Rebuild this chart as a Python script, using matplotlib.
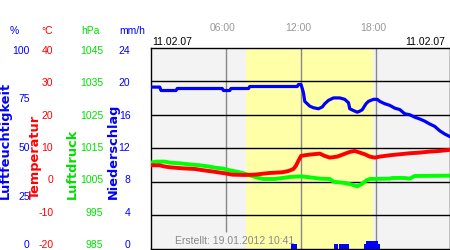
import matplotlib
matplotlib.use('Agg')
import matplotlib.pyplot as plt
import numpy as np

plt.rcParams['font.family'] = ['Liberation Sans', 'DejaVu Sans']
plt.rcParams['axes.unicode_minus'] = False

# humidity (%), hours of day
hum_t = [0.0, 0.7, 0.8, 2.0, 2.1, 5.7, 5.8, 6.3, 6.4, 7.8, 7.9, 11.7, 11.8, 12.0,
         12.1, 12.2, 12.3, 12.5, 12.7, 13.0, 13.4, 13.7, 13.9, 14.2, 14.6, 15.1,
         15.5, 15.8, 15.9, 16.2, 16.5, 16.7, 16.9, 17.2, 17.4, 17.8, 18.1, 18.3,
         18.7, 19.1, 19.5, 19.9, 20.3, 20.7, 21.1, 21.5, 21.9, 22.3, 22.7, 23.1,
         23.5, 23.85]
hum_v = [80.5, 80.5, 78.8, 78.8, 79.8, 79.8, 78.8, 78.8, 79.8, 79.8, 80.8, 80.8, 81.8, 81.8,
         79.8, 77.6, 73.4, 72.2, 71.0, 70.2, 69.7, 70.6, 72.2, 73.9, 75.1, 75.1,
         74.4, 72.7, 69.7, 68.8, 68.0, 68.5, 69.2, 72.2, 73.4, 74.4, 74.4, 73.4,
         72.2, 71.4, 70.0, 69.3, 67.2, 66.7, 65.5, 64.6, 63.5, 62.1, 60.9, 58.7,
         57.1, 56.0]

# temperature (°C)
temp_t = [0.0, 0.7, 1.0, 1.5, 2.5, 3.5, 4.2, 5.0, 5.9, 6.5, 7.5, 8.3, 9.0, 9.5,
          10.5, 11.0, 11.4, 11.6, 11.8, 12.0, 12.3, 12.7, 13.5, 13.9, 14.3, 14.9,
          15.4, 15.9, 16.3, 16.7, 17.1, 17.5, 17.9, 18.3, 19.1, 19.9, 20.7, 21.5,
          22.3, 23.1, 23.85]
temp_v = [4.9, 4.9, 4.6, 4.3, 4.0, 3.8, 3.4, 3.0, 2.5, 2.1, 2.0, 2.1, 2.4, 2.6,
          2.8, 3.2, 3.8, 4.8, 6.3, 7.7, 7.9, 8.1, 8.4, 7.7, 7.2, 7.5,
          8.2, 8.9, 9.2, 8.7, 8.2, 7.5, 7.2, 7.5, 7.9, 8.2, 8.5, 8.7,
          9.0, 9.2, 9.5]

# air pressure (hPa)
pres_t = [0.0, 0.4, 1.1, 1.5, 2.3, 3.0, 3.9, 4.5, 5.1, 5.8, 6.3, 7.0, 7.5, 8.0,
          8.5, 9.0, 9.9, 10.5, 11.1, 12.0, 12.7, 13.5, 14.3, 14.6, 15.5, 16.0,
          16.5, 16.9, 17.2, 17.5, 19.1, 19.3, 20.3, 20.7, 21.1, 23.85]
pres_v = [1010.7, 1011.0, 1011.0, 1010.7, 1010.5, 1010.2, 1009.9, 1009.6, 1009.2,
          1008.9, 1008.4, 1007.9, 1007.4, 1006.8, 1006.2, 1005.8, 1005.8, 1006.1,
          1006.4, 1006.6, 1006.3, 1005.9, 1005.8, 1005.0, 1004.6, 1004.2, 1003.6,
          1004.4, 1005.3, 1005.8, 1005.9, 1006.1, 1006.1, 1005.9, 1006.7, 1006.8]

# precipitation (mm/h), 10 minute bins
rain_t = [11.167, 11.333, 11.5,
          14.667, 14.833, 15.0, 15.167, 15.333, 15.5, 15.667,
          17.0, 17.167, 17.333, 17.5, 17.667, 17.833, 18.0, 18.167]
rain_v = [0.5, 0.5, 0.5,
          0.5, 0.5, 0.5, 0.5, 0.5, 0.5, 0.5,
          0.5, 0.85, 0.85, 0.85, 0.85, 0.85, 0.85, 0.5]

hum_ticks = [0, 25, 50, 75, 100]
temp_ticks = [-20, -10, 0, 10, 20, 30, 40]
pres_ticks = [985, 995, 1005, 1015, 1025, 1035, 1045]
rain_ticks = [0, 4, 8, 12, 16, 20, 24]
hour_lines = [6, 12, 18]
hour_labels = ['06:00', '12:00', '18:00']
day_start, day_end = 7.6, 17.75
date_label = '11.02.07'

BLUE = '#0000ff'
RED = '#ff0000'
GREEN = '#00ff00'
GREEN_TXT = '#00e000'

fig = plt.figure(figsize=(4.5, 2.5), dpi=100)
rect = [150.5 / 450, 1.5 / 250, 299 / 450, 200.5 / 250]
# the scale labels sit on a slightly shorter column than the plot
rect_lab = [150.5 / 450, 6 / 250, 299 / 450, 194 / 250]

ax = fig.add_axes(rect)
ax.set_xlim(-0.04, 23.88)
ax.set_ylim(0, 100)
ax.set_facecolor('#f3f3f3')
ax.axvspan(day_start, day_end, color='#ffffa8', lw=0, zorder=0)
ax.vlines(hour_lines, [8, 0, 0], 100, colors='#888888', lw=1, zorder=1)
for t in temp_ticks[1:-1]:
    ax.axhline((t + 20) / 60 * 100, color='black', lw=1, zorder=1)
ax.plot(hum_t, hum_v, color=BLUE, lw=2.3, zorder=3)
ax.set_xticks([])
ax.set_yticks([])
for s in ax.spines.values():
    s.set_color('black')
    s.set_linewidth(1)


def overlay(lo, hi):
    a = fig.add_axes(rect, sharex=ax)
    a.patch.set_visible(False)
    a.set_ylim(lo, hi)
    a.axis('off')
    return a


def scale(lo, hi, ticks, pad, color):
    a = fig.add_axes(rect_lab)
    a.patch.set_visible(False)
    a.set_ylim(lo, hi)
    a.set_yticks(ticks)
    a.set_xticks([])
    a.tick_params(axis='y', length=0, pad=pad, labelsize=7.5, labelcolor=color)
    for s in a.spines.values():
        s.set_visible(False)
    return a


ax_p = overlay(985, 1045)
ax_p.plot(pres_t, pres_v, color=GREEN, lw=2.8)

ax_t = overlay(-20, 40)
ax_t.plot(temp_t, temp_v, color=RED, lw=2.8)

ax_r = overlay(0, 24)
ax_r.bar(rain_t, rain_v, width=1 / 6, align='edge', color=BLUE, lw=0)

scale(0, 100, hum_ticks, 87, BLUE)
scale(-20, 40, temp_ticks, 70, RED)
scale(985, 1045, pres_ticks, 34, GREEN_TXT)
scale(0, 24, rain_ticks, 14.5, BLUE)

# units
fig.text(14 / 450, 1 - 31 / 250, '%', color=BLUE, fontsize=7.5, ha='center', va='center')
fig.text(47 / 450, 1 - 31 / 250, '°C', color=RED, fontsize=7.5, ha='center', va='center')
fig.text(90 / 450, 1 - 31 / 250, 'hPa', color=GREEN_TXT, fontsize=7.5, ha='center', va='center')
fig.text(132 / 450, 1 - 31 / 250, 'mm/h', color=BLUE, fontsize=7.5, ha='center', va='center')

# axis titles
for x, txt, c in [(5, 'Luftfeuchtigkeit', BLUE), (35.5, 'Temperatur', RED),
                  (72, 'Luftdruck', GREEN_TXT), (113, 'Niederschlag', BLUE)]:
    fig.text(x / 450, 1 - 199 / 250, txt, color=c, rotation=90, ha='center', va='bottom',
             fontsize=9.3, fontweight='bold', family='DejaVu Sans')

# time and date labels
for h, lab in zip(hour_lines, hour_labels):
    ax.text(h - 0.25, 1.0 + 20 / 200.5, lab, transform=ax.get_xaxis_transform(),
            color='#999999', fontsize=7.5, ha='center', va='center')
fig.text(152 / 450, 1 - 42 / 250, date_label, color='black', fontsize=7.5, ha='left', va='center')
fig.text(445 / 450, 1 - 42 / 250, date_label, color='black', fontsize=7.5, ha='right', va='center')

fig.text(175 / 450, 1 - 241 / 250, 'Erstellt: 19.01.2012 10:41', color='#888888',
         fontsize=7.5, ha='left', va='center')

fig.savefig('out.png', dpi=100)
